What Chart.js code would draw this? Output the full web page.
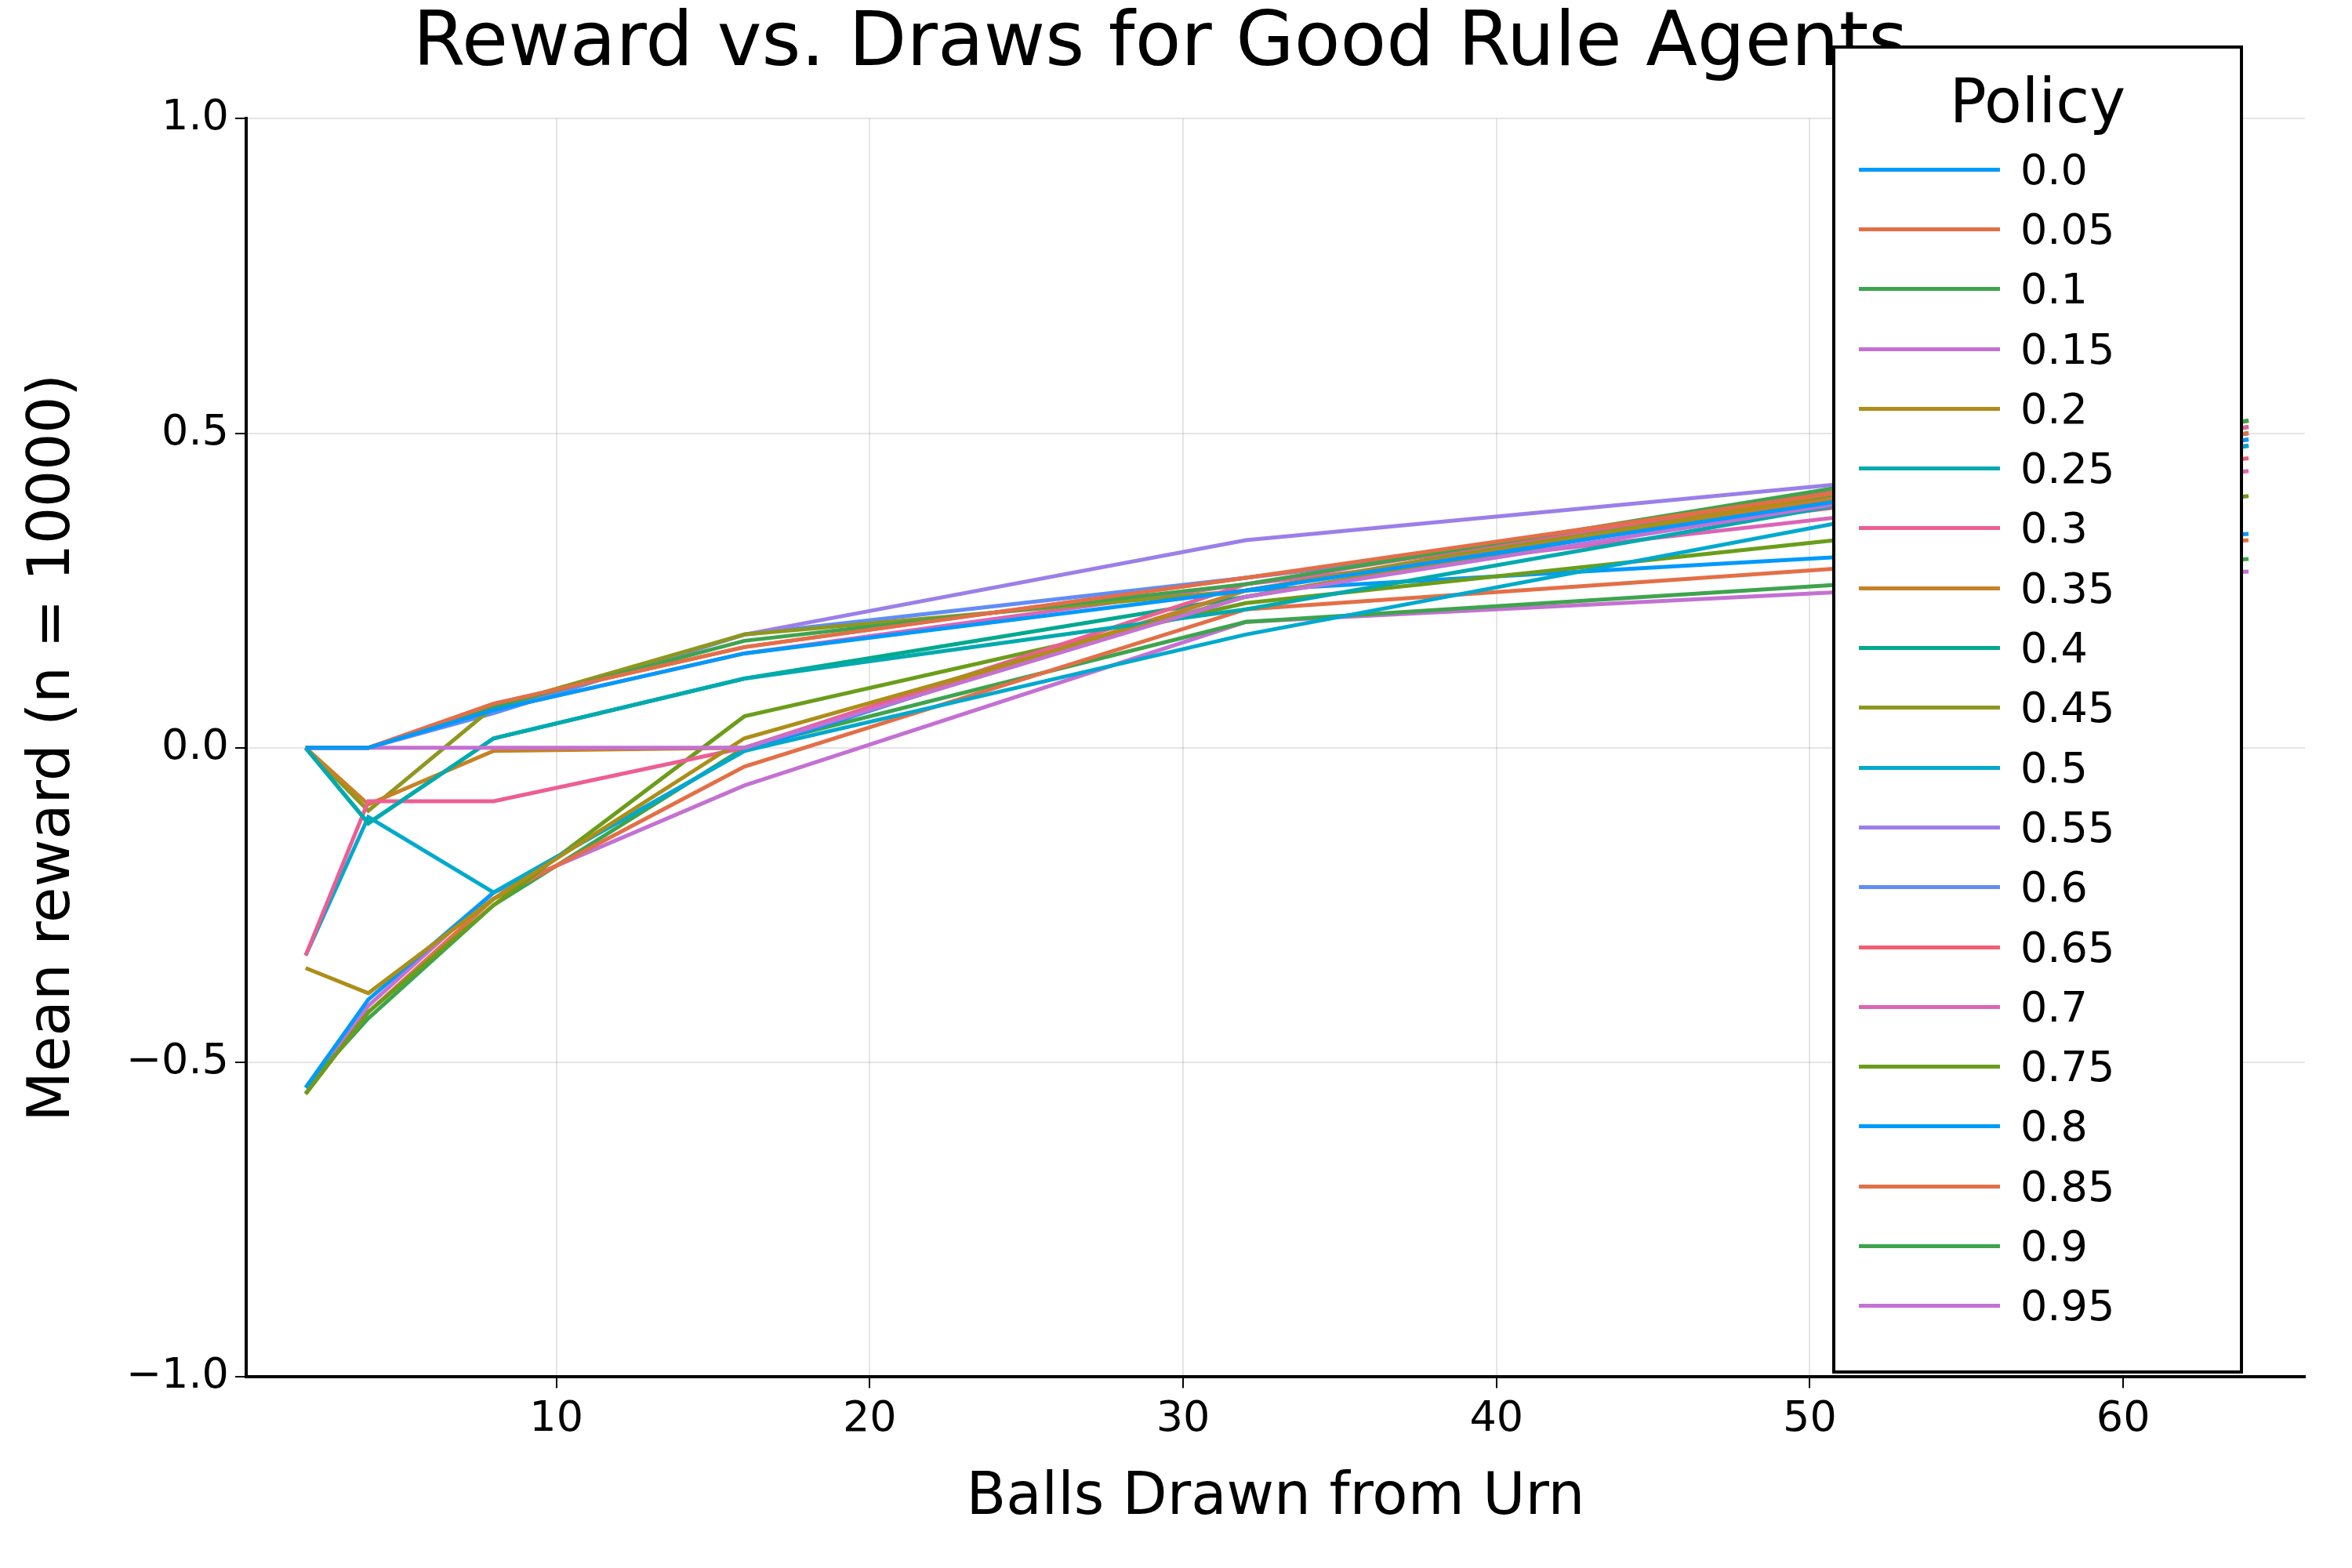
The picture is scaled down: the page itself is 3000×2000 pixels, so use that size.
<!DOCTYPE html>
<html>
<head>
<meta charset="utf-8">
<script src="https://cdn.jsdelivr.net/npm/chart.js@4/dist/chart.umd.min.js"></script>
<style>
  body { margin: 0; background: #fff; }
  #wrap { position: relative; width: 3000px; height: 2000px; }
  #legend {
    position: absolute; left: 2337px; top: 58px; width: 516px; height: 1686px;
    border: 4px solid #000; background: #fff; font-family: "DejaVu Sans", sans-serif;
  }
  #legend h3 { margin: 22px 0 4px 0; text-align: center; font-weight: normal; font-size: 78px; }
  #legend ul { list-style: none; margin: 0; padding: 0 0 0 30px; }
  #legend li { height: 76.3px; display: flex; align-items: center; font-size: 54px; }
  #legend li span { display: inline-block; width: 180px; height: 5px; margin-right: 26px; }
</style>
</head>
<body>
<div id="wrap">
  <canvas id="chart" width="3000" height="2000"></canvas>
  <div id="legend"><h3>Policy</h3><ul></ul></div>
</div>
<script>
// draws
const draws = [2, 4, 8, 16, 32, 64];
const policies = ["0.0", "0.05", "0.1", "0.15", "0.2", "0.25", "0.3", "0.35", "0.4", "0.45",
  "0.5", "0.55", "0.6", "0.65", "0.7", "0.75", "0.8", "0.85", "0.9", "0.95"];

// mean reward per policy, one value per draw count
const r00 = [0, 0, 0.06, 0.15, 0.25, 0.49];
const r05 = [0, 0, 0.07, 0.16, 0.27, 0.50];
const r10 = [0, 0, 0.065, 0.17, 0.26, 0.52];
const r15 = [0, 0, 0, 0, 0.24, 0.49];
const r20 = [-0.35, -0.39, -0.24, 0.015, 0.24, 0.52];
const r25 = [0, -0.12, 0.015, 0.11, 0.22, 0.50];
const r30 = [-0.33, -0.085, -0.085, 0.0, 0.26, 0.51];
const r35 = [0, -0.09, -0.005, 0.0, 0.25, 0.50];
const r40 = [0, -0.12, 0.015, 0.11, 0.24, 0.51];
const r45 = [0, -0.10, 0.065, 0.18, 0.25, 0.52];
const r50 = [-0.33, -0.11, -0.23, -0.005, 0.18, 0.48];
const r55 = [0, 0, 0.06, 0.18, 0.33, 0.48];
const r60 = [0, 0, 0.055, 0.18, 0.27, 0.48];
const r65 = [0, 0, 0.07, 0.16, 0.27, 0.46];
const r70 = [0, 0, 0.06, 0.15, 0.26, 0.44];
const r75 = [-0.55, -0.42, -0.25, 0.05, 0.23, 0.40];
const r80 = [-0.54, -0.40, -0.23, -0.005, 0.25, 0.34];
const r85 = [-0.55, -0.42, -0.24, -0.03, 0.22, 0.33];
const r90 = [-0.54, -0.43, -0.25, 0.0, 0.20, 0.30];
const r95 = [-0.55, -0.41, -0.23, -0.06, 0.20, 0.28];
const rewards = [r00, r05, r10, r15, r20, r25, r30, r35, r40, r45,
  r50, r55, r60, r65, r70, r75, r80, r85, r90, r95];

const palette = ["#009AFA", "#E36F47", "#3EA44E", "#C371D2", "#AC8E18", "#00AAAE", "#ED5E93", "#C68225",
  "#00A98D", "#8E971E", "#00A9CD", "#9B7FE9", "#618DF6", "#F05F73", "#DD64B5", "#6B9D1A"];

const datasets = policies.map((p, i) => ({
  label: p,
  data: draws.map((d, j) => ({ x: d, y: rewards[i][j] })),
  borderColor: palette[i % palette.length],
  borderWidth: 5,
  pointRadius: 0,
  tension: 0,
}));

const ul = document.querySelector("#legend ul");
policies.forEach((p, i) => {
  let li = document.createElement("li");
  li.innerHTML = `<span style="background:${palette[i % palette.length]}"></span>${p}`;
  ul.appendChild(li);
});

const font = "'DejaVu Sans', sans-serif";
new Chart(document.getElementById("chart"), {
  type: "line",
  data: { datasets: datasets },
  options: {
    responsive: false,
    animation: false,
    devicePixelRatio: 1,
    layout: { padding: { left: 20, right: 60, top: 0, bottom: 40 } },
    plugins: {
      legend: { display: false },
      tooltip: { enabled: false },
      title: {
        display: true,
        text: "Reward vs. Draws for Good Rule Agents",
        color: "#000",
        font: { family: font, size: 96, weight: "normal" },
        padding: { top: 0, bottom: 36 },
      },
    },
    scales: {
      x: {
        type: "linear",
        min: 0.1,
        max: 65.8,
        afterBuildTicks: (axis) => { axis.ticks = [10, 20, 30, 40, 50, 60].map(v => ({ value: v })); },
        border: { color: "#000", width: 4 },
        grid: { color: "rgba(0,0,0,0.1)", lineWidth: 2, tickColor: "#000", tickLength: 14 },
        ticks: { color: "#000", font: { family: font, size: 54 }, padding: 8 },
        title: { display: true, text: "Balls Drawn from Urn", color: "#000", font: { family: font, size: 74 }, padding: { top: 16 } },
      },
      y: {
        min: -1,
        max: 1,
        afterBuildTicks: (axis) => { axis.ticks = [-1, -0.5, 0, 0.5, 1].map(v => ({ value: v })); },
        border: { color: "#000", width: 4 },
        grid: { color: "rgba(0,0,0,0.1)", lineWidth: 2, tickColor: "#000", tickLength: 14 },
        ticks: {
          color: "#000", font: { family: font, size: 54 }, padding: 8,
          callback: (v) => (v < 0 ? "\u2212" : "") + Math.abs(v).toFixed(1),
        },
        title: { display: true, text: "Mean reward (n = 10000)", color: "#000", font: { family: font, size: 74 }, padding: { bottom: 40 } },
      },
    },
  },
});
</script>
</body>
</html>
